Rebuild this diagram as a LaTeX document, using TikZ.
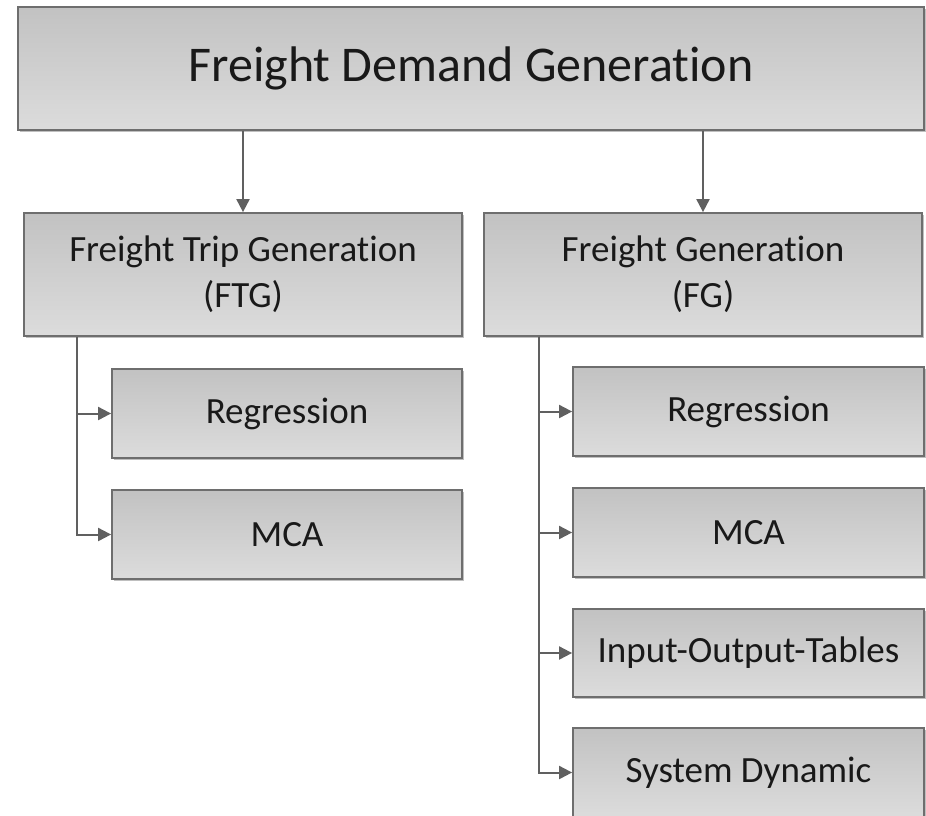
\documentclass[tikz,border=0pt]{standalone}
\usepackage{fontspec}
\setmainfont{Carlito}[Ligatures=NoCommon]
\usetikzlibrary{arrows.meta,shadows}
\definecolor{boxline}{HTML}{6E6E6E}
\definecolor{boxtop}{HTML}{C2C2C2}
\definecolor{boxbot}{HTML}{DCDCDC}
\definecolor{conn}{HTML}{606060}
\tikzset{
  box/.style={draw=boxline, line width=1.8pt, top color=boxtop, bottom color=boxbot,
    inner sep=0pt, align=center, text=black!90,
    drop shadow={shadow xshift=1.5pt, shadow yshift=-1.5pt, opacity=0.25, fill=black}},
  bigbox/.style={box, font=\fontsize{50}{58}\selectfont},
  midbox/.style={box, font=\fontsize{37}{46}\selectfont},
  smallbox/.style={box, font=\fontsize{37}{44}\selectfont},
  conn/.style={draw=conn, line width=2pt, -{Triangle[length=13pt,width=13pt]}, color=conn}
}
\begin{document}
\begin{tikzpicture}[x=1pt,y=-1pt]
\clip (0,0) rectangle (926,815);
\fill[white] (0,0) rectangle (926,815);
\node[bigbox, minimum width=906pt, minimum height=123pt] (top) at (471,68.5) {Freight Demand Generation};
\node[midbox, minimum width=438pt, minimum height=123pt] (ftg) at (243,274.5) {Freight Trip Generation\\(FTG)};
\node[midbox, minimum width=438pt, minimum height=123pt] (fg) at (703,274.5) {Freight Generation\\(FG)};
\node[smallbox, minimum width=350pt, minimum height=89pt] (lreg) at (287,413.5) {Regression};
\node[smallbox, minimum width=350pt, minimum height=89pt] (lmca) at (287,534.5) {MCA};
\node[smallbox, minimum width=351pt, minimum height=89pt] (rreg) at (748.5,411.5) {Regression};
\node[smallbox, minimum width=351pt, minimum height=89pt] (rmca) at (748.5,532.5) {MCA};
\node[smallbox, minimum width=351pt, minimum height=88pt] (riot) at (748.5,653) {Input-Output-Tables};
\node[smallbox, minimum width=351pt, minimum height=89pt] (rsd) at (748.5,772.5) {System Dynamic};
\coordinate (lx) at (77,0);
\coordinate (rx) at (539,0);
\draw[conn] (top.south -| ftg.north) -- (ftg.north);
\draw[conn] (top.south -| fg.north) -- (fg.north);
\draw[conn] (ftg.south -| lx) |- (lreg.west);
\draw[conn] (ftg.south -| lx) |- (lmca.west);
\draw[conn] (fg.south -| rx) |- (rreg.west);
\draw[conn] (fg.south -| rx) |- (rmca.west);
\draw[conn] (fg.south -| rx) |- (riot.west);
\draw[conn] (fg.south -| rx) |- (rsd.west);
\end{tikzpicture}
\end{document}
